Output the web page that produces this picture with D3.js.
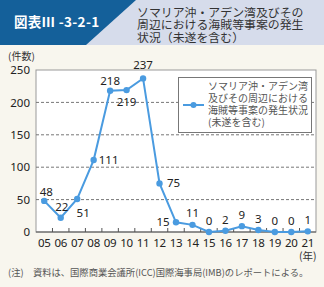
<!DOCTYPE html>
<html>
<head>
<meta charset="utf-8">
<script src="https://cdn.jsdelivr.net/npm/d3@7"></script>
<style>
body{margin:0;padding:0;}
svg{display:block;font-family:"Noto Sans CJK JP","Noto Sans",sans-serif;}
</style>
</head>
<body>
<div id="chart"></div>
<script>
//Data
var years = ["05","06","07","08","09","10","11","12","13","14","15","16","17","18","19","20","21"];
var cases = [48,22,51,111,218,219,237,75,15,11,0,2,9,3,0,0,1];
var yTicks = [0,50,100,150,200,250];
// label offsets (dx,dy) relative to the dot, picked by eye
var labelPos = [[2,-9],[1,-11],[6,14],[15,0],[0,-10],[0,12],[0,-13],[14,0],[-13,0],[0,-12],[0,-11],[0,-11],[0,-11],[0,-11],[0,-11],[0,-11],[0,-11]];
var titleLines = ["ソマリア沖・アデン湾及びその","周辺における海賊等事案の発生","状況（未遂を含む）"];
var legendLines = ["ソマリア沖・アデン湾","及びその周辺における","海賊等事案の発生状況","(未遂を含む)"];

var W = 324, H = 287;
var plot = {left:36, right:316, top:70, bottom:232};
var blue = "#4a9be0";

var svg = d3.select("#chart").append("svg")
	.attr("width", W).attr("height", H);

svg.append("rect").attr("width", W).attr("height", H).attr("fill", "#f8f6ee");

//header
svg.append("rect").attr("width", W).attr("height", 45).attr("fill", "#d6dceb");
svg.append("polygon").attr("points", "0,0 136,0 86,45 0,45").attr("fill", "#14609a");
svg.append("text").attr("x", 14).attr("y", 27)
	.attr("fill", "#fff").style("font-size", "13.5px").style("font-weight", "bold")
	.style("letter-spacing", "0.3px")
	.text("図表Ⅲ -3-2-1");
//title as one wrapped text block
svg.append("text").attr("x", 137).attr("y", 16.5)
	.attr("fill", "#333").style("font-size", "11.9px")
	.selectAll("tspan").data(titleLines).enter().append("tspan")
	.attr("x", 137).attr("dy", function(d, i){ return i ? 12.8 : 0; })
	.text(function(d){ return d; });

//scales
var x = d3.scaleBand().domain(years).range([plot.left, plot.right]);
var y = d3.scaleLinear().domain([0, 250]).range([plot.bottom, plot.top]);

svg.append("rect").attr("x", plot.left).attr("y", plot.top)
	.attr("width", plot.right - plot.left).attr("height", plot.bottom - plot.top)
	.attr("fill", "#fff").attr("stroke", "#999").attr("stroke-width", 1);

//grid
svg.append("g").selectAll("line").data(yTicks.filter(function(d){ return d > 0 && d < 250; }))
	.enter().append("line")
	.attr("x1", plot.left).attr("x2", plot.right)
	.attr("y1", function(d){ return y(d); }).attr("y2", function(d){ return y(d); })
	.attr("stroke", "#777").attr("stroke-width", 1).attr("stroke-dasharray", "3,2");

//y axis
var yAxis = svg.append("g").attr("transform", "translate(" + plot.left + ",0)")
	.call(d3.axisLeft(y).tickValues(yTicks).tickSize(0).tickPadding(6));
yAxis.select(".domain").remove();
yAxis.selectAll("text").style("font-size", "11.5px").attr("fill", "#222")
	.style("font-family", "'Noto Sans', sans-serif");

//x axis with ticks at band edges
svg.append("line").attr("x1", plot.left).attr("x2", plot.right)
	.attr("y1", plot.bottom).attr("y2", plot.bottom).attr("stroke", "#555");
svg.append("g").selectAll("line").data(years.slice(1)).enter().append("line")
	.attr("x1", function(d){ return x(d); }).attr("x2", function(d){ return x(d); })
	.attr("y1", plot.bottom).attr("y2", plot.bottom - 4)
	.attr("stroke", "#555");
svg.append("g").selectAll("text").data(years).enter().append("text")
	.attr("x", function(d){ return x(d) + x.bandwidth()/2; }).attr("y", plot.bottom + 15)
	.attr("text-anchor", "middle").style("font-size", "11.5px").attr("fill", "#222")
	.style("font-family", "'Noto Sans', sans-serif").style("letter-spacing", "-0.3px")
	.text(function(d){ return d; });

svg.append("text").attr("x", 8).attr("y", 60).style("font-size", "10px").attr("fill", "#333").text("(件数)");
svg.append("text").attr("x", x("21") + x.bandwidth()/2).attr("y", plot.bottom + 28)
	.attr("text-anchor", "middle").style("font-size", "10.5px").attr("fill", "#333").text("(年)");

//line
var line = d3.line()
	.x(function(d, i){ return x(years[i]) + x.bandwidth()/2; })
	.y(function(d){ return y(d); });
svg.append("path").datum(cases).attr("d", line)
	.attr("fill", "none").attr("stroke", blue).attr("stroke-width", 2);
svg.append("g").selectAll("circle").data(cases).enter().append("circle")
	.attr("cx", function(d, i){ return x(years[i]) + x.bandwidth()/2; })
	.attr("cy", function(d){ return y(d); })
	.attr("r", 3.2).attr("fill", blue);
svg.append("g").selectAll("text").data(cases).enter().append("text")
	.attr("x", function(d, i){ return x(years[i]) + x.bandwidth()/2 + labelPos[i][0]; })
	.attr("y", function(d, i){ return y(d) + labelPos[i][1]; })
	.attr("text-anchor", "middle").attr("dy", "0.35em")
	.style("font-size", "11.5px").attr("fill", "#222")
	.style("font-family", "'Noto Sans', sans-serif")
	.text(function(d){ return d; });

//legend
svg.append("rect").attr("x", 178.5).attr("y", 77.5).attr("width", 133).attr("height", 55)
	.attr("fill", "#fff").attr("stroke", "#777");
svg.append("line").attr("x1", 183).attr("x2", 204).attr("y1", 105).attr("y2", 105)
	.attr("stroke", blue).attr("stroke-width", 2);
svg.append("circle").attr("cx", 193.5).attr("cy", 105).attr("r", 3).attr("fill", blue);
svg.append("text").attr("x", 208).attr("y", 90)
	.style("font-size", "10px").attr("fill", "#555")
	.selectAll("tspan").data(legendLines).enter().append("tspan")
	.attr("x", 208).attr("dy", function(d, i){ return i ? 12 : 0; })
	.text(function(d){ return d; });

//note
svg.append("text").attr("x", 8).attr("y", 276).style("font-size", "9.3px").attr("fill", "#555")
	.text("(注)　資料は、国際商業会議所(ICC)国際海事局(IMB)のレポートによる。");
</script>
</body>
</html>
